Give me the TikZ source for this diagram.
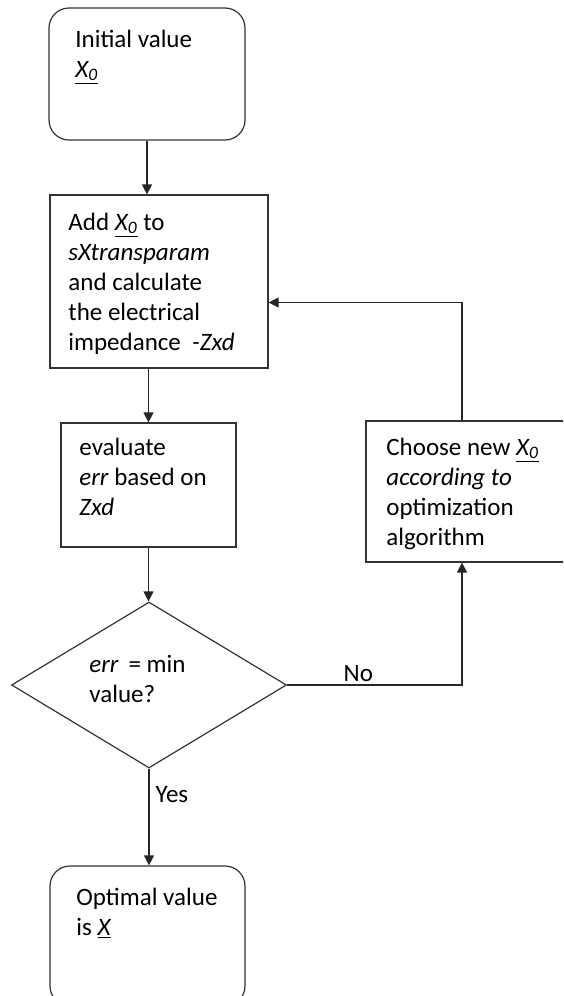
\documentclass[tikz,border=0pt]{standalone}
\usepackage{fontspec}
\setmainfont{Carlito}
\usetikzlibrary{arrows.meta,shapes.geometric}
\tikzset{
  box/.style={draw=black!80,line width=0.6pt,inner sep=0pt},
  endbox/.style={box,rounded corners=10pt},
  txt/.style={inner sep=0pt,align=left,anchor=base west,font=\fontsize{12.5}{15}\selectfont},
  flow/.style={draw=black!85,line width=0.6pt,-{Triangle[length=5pt,width=5pt]}},
  plain/.style={draw=black!85,line width=0.6pt}
}
\newcommand{\xo}{\underline{\textit{X\textsubscript{0}}}}
\begin{document}
\begin{tikzpicture}[x=0.5pt,y=-0.5pt]
			\useasboundingbox (0,0) rectangle (563,996);
			\clip (0,0) rectangle (563,996);
			\node[endbox,minimum width=98pt,minimum height=66pt] (init) at (147,74) {};
			\node[box,minimum width=109pt,minimum height=86.5pt] (add) at (159,281.5) {};
			\node[box,minimum width=87.5pt,minimum height=62pt] (eval) at (148.5,485) {};
			\node[box,minimum width=102pt,minimum height=70.5pt] (choose) at (468,491.5) {};
			\node[box,diamond,minimum width=137.5pt,minimum height=83pt] (dec) at (149,685) {};
			\node[endbox,minimum width=97.5pt,minimum height=70pt] (final) at (147.5,936) {};
			\node[txt] (initT) at (75,77) {Initial value\\ \xo};
			\node[txt] (addT) at (68,350) {Add \xo{} to\\ \textit{sXtransparam}\\ and calculate\\ the electrical\\ impedance \ \textit{-Zxd}};
			\node[txt] (evalT) at (79,515) {evaluate\\ \textit{err} based on\\ \textit{Zxd}};
			\node[txt] (decT) at (89,702) {\textit{err} \,= min\\ value?};
			\node[txt] (chooseT) at (386,545) {Choose new \xo\\ \textit{according to}\\ optimization\\ algorithm};
			\node[txt] (finalT) at (76,935) {Optimal value\\ is \underline{\textit{X}}};
			\coordinate (back) at ([yshift=-10.5pt]add.east);
			\draw[flow] (init.south) -- (init.south |- add.north);
			\draw[flow] (eval.north |- add.south) -- (eval.north);
			\draw[flow] (eval.south) -- (eval.south |- dec.north);
			\draw[flow] (dec.south) -- (dec.south |- final.north) node[txt,pos=0.35,xshift=3pt] (yes) {Yes};
			\draw[flow] (dec.east) -| ([xshift=-3pt]choose.south) node[txt,pos=0.16,yshift=2pt] (no) {No};
			\draw[flow] ([xshift=-3pt]choose.north) |- (back);
		\end{tikzpicture}
\end{document}
